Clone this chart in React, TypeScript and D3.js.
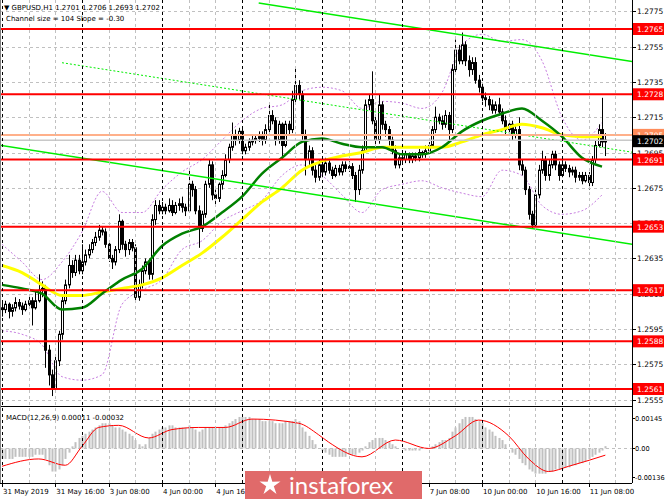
import React, { useEffect, useRef } from "react";
import * as d3 from "d3";

// GBPUSD H1 candles, 31 May 00:00 .. 11 Jun 13:00
const opens = [
  1.2607, 1.2606, 1.2609, 1.2605, 1.2607, 1.261, 1.2608, 1.2606, 1.2609, 1.2611,
  1.2607, 1.2611, 1.2617, 1.2618, 1.2583, 1.2569, 1.2561, 1.2577, 1.2592, 1.2611,
  1.262, 1.2631, 1.2627, 1.2634, 1.2628, 1.2633, 1.2637, 1.264, 1.2644, 1.2647,
  1.2651, 1.265, 1.2643, 1.2635, 1.2633, 1.264, 1.2656, 1.2643, 1.264, 1.2644,
  1.2641, 1.2613, 1.262, 1.2628, 1.2633, 1.2626, 1.2657, 1.2665, 1.2662, 1.2664,
  1.2662, 1.2665, 1.2661, 1.2665, 1.2666, 1.2664, 1.2662, 1.2677, 1.2674, 1.2662,
  1.2652, 1.266, 1.2677, 1.2688, 1.2671, 1.2669, 1.2677, 1.2682, 1.2691, 1.2698,
  1.2705, 1.2702, 1.2707, 1.2696, 1.2698, 1.2701, 1.2702, 1.2703, 1.2704, 1.2702,
  1.2708, 1.2716, 1.2713, 1.2702, 1.2711, 1.2699, 1.2711, 1.2708, 1.2725, 1.2733,
  1.2728, 1.2705, 1.2691, 1.2696, 1.2685, 1.2681, 1.2688, 1.2684, 1.2689, 1.2685,
  1.2682, 1.2686, 1.2684, 1.2688, 1.2686, 1.2687, 1.2682, 1.2674, 1.2685, 1.2696,
  1.2722, 1.2725, 1.2713, 1.2702, 1.2722, 1.2711, 1.2708, 1.2702, 1.2696, 1.2688,
  1.2692, 1.2691, 1.2694, 1.2691, 1.2693, 1.2692, 1.2695, 1.2694, 1.2696, 1.2699,
  1.2708, 1.2715, 1.2713, 1.2711, 1.2716, 1.2708, 1.2742, 1.2753, 1.2747, 1.2756,
  1.2747, 1.2742, 1.2746, 1.2736, 1.2732, 1.2726, 1.2725, 1.2722, 1.2719, 1.2722,
  1.2718, 1.2713, 1.2708, 1.2711, 1.2705, 1.2708, 1.2688, 1.2685, 1.2674, 1.266,
  1.2654, 1.2671, 1.2685, 1.2691, 1.2682, 1.2688, 1.2694, 1.2688, 1.2682, 1.2688,
  1.2686, 1.2684, 1.2685, 1.2681, 1.2682, 1.2679, 1.2682, 1.2678, 1.2691, 1.2699,
  1.2708, 1.2701,
];
const highs = [
  1.261, 1.2611, 1.261, 1.2609, 1.2613, 1.2612, 1.261, 1.2611, 1.2614, 1.2613,
  1.2617, 1.2626, 1.2622, 1.262, 1.2586, 1.2572, 1.258, 1.2594, 1.2614, 1.2623,
  1.2637, 1.2634, 1.2637, 1.2637, 1.2643, 1.264, 1.2643, 1.2646, 1.265, 1.2654,
  1.2653, 1.2652, 1.2644, 1.2637, 1.2642, 1.266, 1.2657, 1.2645, 1.2646, 1.2646,
  1.2643, 1.2623, 1.2631, 1.2635, 1.2635, 1.266, 1.2668, 1.2668, 1.2667, 1.2666,
  1.2669, 1.2668, 1.2667, 1.2669, 1.267, 1.2666, 1.2685, 1.2679, 1.2676, 1.2665,
  1.2662, 1.2679, 1.2691, 1.269, 1.2674, 1.2678, 1.2685, 1.2694, 1.27, 1.2712,
  1.2708, 1.2709, 1.2709, 1.27, 1.2703, 1.2705, 1.2705, 1.2707, 1.2707, 1.2711,
  1.2723, 1.2719, 1.2715, 1.2713, 1.2712, 1.2713, 1.2713, 1.273, 1.2743, 1.2736,
  1.273, 1.2708, 1.2699, 1.2698, 1.2688, 1.2691, 1.269, 1.2692, 1.2691, 1.2687,
  1.2688, 1.2688, 1.269, 1.269, 1.269, 1.2689, 1.2684, 1.2688, 1.2699, 1.2725,
  1.2728, 1.2741, 1.2716, 1.2728, 1.2724, 1.2713, 1.271, 1.2704, 1.2699, 1.2694,
  1.2694, 1.2696, 1.2695, 1.2695, 1.2695, 1.2697, 1.2696, 1.2699, 1.2701, 1.271,
  1.2721, 1.2717, 1.2716, 1.2719, 1.2718, 1.2745, 1.2759, 1.2756, 1.2763, 1.2758,
  1.275, 1.2749, 1.2749, 1.2739, 1.2734, 1.2729, 1.2727, 1.2725, 1.2724, 1.2726,
  1.272, 1.2716, 1.2713, 1.2713, 1.271, 1.2715, 1.2691, 1.2687, 1.2676, 1.2662,
  1.2674, 1.2688, 1.2696, 1.2693, 1.2691, 1.2696, 1.2696, 1.269, 1.2691, 1.269,
  1.2688, 1.2687, 1.2687, 1.2684, 1.2684, 1.2684, 1.2684, 1.2693, 1.2702, 1.2711,
  1.2726, 1.2706,
];
const lows = [
  1.2602, 1.2604, 1.2601, 1.2602, 1.2605, 1.2606, 1.2603, 1.2605, 1.2607, 1.2597,
  1.2606, 1.261, 1.2613, 1.2573, 1.2563, 1.2557, 1.2559, 1.2574, 1.2589, 1.2609,
  1.2618, 1.2624, 1.2625, 1.2626, 1.2626, 1.2631, 1.2635, 1.2638, 1.2642, 1.2645,
  1.2648, 1.2641, 1.2633, 1.2629, 1.2631, 1.2638, 1.264, 1.2636, 1.2637, 1.2639,
  1.261, 1.2611, 1.2618, 1.2626, 1.2623, 1.2623, 1.2654, 1.266, 1.266, 1.266,
  1.2661, 1.2659, 1.266, 1.2662, 1.2661, 1.2659, 1.2661, 1.267, 1.266, 1.2641,
  1.265, 1.2658, 1.2675, 1.2668, 1.2665, 1.2667, 1.2674, 1.2681, 1.2689, 1.2696,
  1.2699, 1.27, 1.2694, 1.2694, 1.2696, 1.2699, 1.27, 1.2701, 1.2699, 1.27,
  1.2706, 1.2711, 1.2699, 1.27, 1.2691, 1.2698, 1.2705, 1.2706, 1.2722, 1.2725,
  1.2702, 1.2682, 1.2688, 1.2682, 1.2678, 1.2679, 1.2681, 1.2682, 1.2683, 1.268,
  1.2681, 1.2682, 1.2682, 1.2684, 1.2684, 1.268, 1.2667, 1.2671, 1.2683, 1.2695,
  1.2719, 1.2711, 1.2699, 1.27, 1.2708, 1.2704, 1.2699, 1.2694, 1.2686, 1.2686,
  1.2688, 1.2689, 1.2689, 1.2689, 1.269, 1.269, 1.2692, 1.2692, 1.2695, 1.2698,
  1.2706, 1.2711, 1.2708, 1.2709, 1.2702, 1.2706, 1.2739, 1.2745, 1.2745, 1.2744,
  1.2738, 1.2739, 1.2734, 1.2729, 1.2724, 1.2721, 1.2719, 1.2717, 1.2717, 1.2716,
  1.2711, 1.2705, 1.2705, 1.2702, 1.2703, 1.2685, 1.2682, 1.2671, 1.2657, 1.2652,
  1.2653, 1.2669, 1.2683, 1.2679, 1.2679, 1.2686, 1.2685, 1.2679, 1.2681, 1.2684,
  1.2681, 1.2682, 1.2678, 1.2679, 1.2677, 1.2678, 1.2674, 1.2676, 1.2689, 1.2698,
  1.2698, 1.2693,
];
const closes = [
  1.2606, 1.2609, 1.2605, 1.2607, 1.261, 1.2608, 1.2606, 1.2609, 1.2611, 1.2607,
  1.2611, 1.2617, 1.2618, 1.2583, 1.2569, 1.2561, 1.2577, 1.2592, 1.2611, 1.262,
  1.2631, 1.2627, 1.2634, 1.2628, 1.2633, 1.2637, 1.264, 1.2644, 1.2647, 1.2651,
  1.265, 1.2643, 1.2635, 1.2633, 1.264, 1.2656, 1.2643, 1.264, 1.2644, 1.2641,
  1.2613, 1.262, 1.2628, 1.2633, 1.2626, 1.2657, 1.2665, 1.2662, 1.2664, 1.2662,
  1.2665, 1.2661, 1.2665, 1.2666, 1.2664, 1.2662, 1.2677, 1.2674, 1.2662, 1.2652,
  1.266, 1.2677, 1.2688, 1.2671, 1.2669, 1.2677, 1.2682, 1.2691, 1.2698, 1.2705,
  1.2702, 1.2707, 1.2696, 1.2698, 1.2701, 1.2702, 1.2703, 1.2704, 1.2702, 1.2708,
  1.2716, 1.2713, 1.2702, 1.2711, 1.2699, 1.2711, 1.2708, 1.2725, 1.2733, 1.2728,
  1.2705, 1.2691, 1.2696, 1.2685, 1.2681, 1.2688, 1.2684, 1.2689, 1.2685, 1.2682,
  1.2686, 1.2684, 1.2688, 1.2686, 1.2687, 1.2682, 1.2674, 1.2685, 1.2696, 1.2722,
  1.2725, 1.2713, 1.2702, 1.2722, 1.2711, 1.2708, 1.2702, 1.2696, 1.2688, 1.2692,
  1.2691, 1.2694, 1.2691, 1.2693, 1.2692, 1.2695, 1.2694, 1.2696, 1.2699, 1.2708,
  1.2715, 1.2713, 1.2711, 1.2716, 1.2708, 1.2742, 1.2753, 1.2747, 1.2756, 1.2747,
  1.2742, 1.2746, 1.2736, 1.2732, 1.2726, 1.2725, 1.2722, 1.2719, 1.2722, 1.2718,
  1.2713, 1.2708, 1.2711, 1.2705, 1.2708, 1.2688, 1.2685, 1.2674, 1.266, 1.2654,
  1.2671, 1.2685, 1.2691, 1.2682, 1.2688, 1.2694, 1.2688, 1.2682, 1.2688, 1.2686,
  1.2684, 1.2685, 1.2681, 1.2682, 1.2679, 1.2682, 1.2678, 1.2691, 1.2699, 1.2708,
  1.2701, 1.2702,
];

// indicator readings, sampled every 6 bars
const sampleBars = d3.range(0, 181, 6);
const maFast = [
  1.262, 1.2618, 1.2615, 1.2606, 1.2607, 1.2615, 1.2623, 1.2629, 1.2642, 1.2649,
  1.2653, 1.2661, 1.267, 1.2683, 1.2692, 1.2701, 1.2703, 1.27, 1.2698, 1.2698,
  1.2694, 1.2694, 1.2698, 1.2707, 1.2713, 1.2717, 1.272, 1.2713, 1.2704, 1.2692,
  1.2687,
];
const maSlow = [
  1.2631, 1.2627, 1.262, 1.2614, 1.2614, 1.2616, 1.2618, 1.262, 1.2624, 1.2631,
  1.2638, 1.2647, 1.2657, 1.2667, 1.2675, 1.2685, 1.269, 1.2693, 1.2695, 1.2698,
  1.2698, 1.2698, 1.2698, 1.2701, 1.2705, 1.2708, 1.2711, 1.2709, 1.2705, 1.2704,
  1.2704,
];
const bandUpper = [
  1.2643, 1.2633, 1.2623, 1.2633, 1.265, 1.2673, 1.2661, 1.2661, 1.2674, 1.2684,
  1.2691, 1.2702, 1.2713, 1.272, 1.2722, 1.273, 1.2732, 1.273, 1.272, 1.2724,
  1.2723, 1.272, 1.2729, 1.2756, 1.2762, 1.2758, 1.2759, 1.2747, 1.2715, 1.2702,
  1.2712,
];
const bandLower = [
  1.2594, 1.2592, 1.2586, 1.2568, 1.2566, 1.2569, 1.2609, 1.2617, 1.2623, 1.264,
  1.2645, 1.2656, 1.2662, 1.2668, 1.2682, 1.2688, 1.2682, 1.2671, 1.2661, 1.2674,
  1.2677, 1.2679, 1.2675, 1.2672, 1.267, 1.2685, 1.2682, 1.2665, 1.266, 1.2662,
  1.2671,
];

// equidistant channel (anchor bar, price)
const channelTop = [{ bar: 77, price: 1.27797 }, { bar: 190, price: 1.27463 }];
const channelBottom = [{ bar: -2, price: 1.26996 }, { bar: 190, price: 1.26427 }];
const channelMid = [{ bar: 18, price: 1.27459 }, { bar: 190, price: 1.26949 }];

const levels = [1.2765, 1.2728, 1.2691, 1.2653, 1.2617, 1.2588, 1.2561];
const priceTicks = [
  1.2555, 1.2575, 1.2595, 1.2615, 1.2635, 1.2655, 1.2675, 1.2695, 1.2715,
  1.2735, 1.2755, 1.2775,
];
const macdTicks = [0.00145, 0, -0.00136];
const macdTickLabels = ["0.00145", "0.00", "-0.00136"];
const timeBars = [0, 16, 32, 48, 64, 80, 96, 112, 128, 144, 160, 176];
const timeLabels = [
  "31 May 2019", "31 May 16:00", "3 Jun 08:00", "4 Jun 00:00", "4 Jun 16:00",
  "5 Jun 08:00", "6 Jun 00:00", "6 Jun 16:00", "7 Jun 08:00", "10 Jun 00:00",
  "10 Jun 16:00", "11 Jun 08:00",
];

const macdHist = [
  -0.0005, -0.0005, -0.0005, -0.0005, -0.0004, -0.0004, -0.0004, -0.0004, -0.0004, -0.0004,
  -0.0003, -0.0003, -0.0003, -0.0005, -0.0008, -0.0011, -0.0011, -0.001, -0.0008, -0.0005,
  -0.0002, 0.0001, 0.0003, 0.0005, 0.0006, 0.0007, 0.0008, 0.0009, 0.001, 0.0011,
  0.0012, 0.0012, 0.0012, 0.0011, 0.001, 0.001, 0.0009, 0.0008, 0.0007, 0.0006,
  0.0004, 0.0002, 0.0001, 0.0002, 0.0005, 0.0007, 0.0008, 0.0009, 0.001, 0.001,
  0.0011, 0.0011, 0.001, 0.001, 0.001, 0.001, 0.0011, 0.001, 0.0009, 0.0008,
  0.0009, 0.001, 0.001, 0.001, 0.001, 0.001, 0.001, 0.0011, 0.0012, 0.0013,
  0.0014, 0.0015, 0.0015, 0.0015, 0.0015, 0.0014, 0.0014, 0.0014, 0.0013, 0.0013,
  0.0013, 0.0013, 0.0012, 0.0012, 0.0012, 0.0013, 0.0013, 0.0013, 0.0014, 0.0013,
  0.001, 0.0008, 0.0006, 0.0004, 0.0002, 0.0, -0.0001, -0.0002, -0.0003, -0.0004,
  -0.0004, -0.0004, -0.0004, -0.0004, -0.0003, -0.0003, -0.0003, -0.0002, -0.0001, 0.0001,
  0.0003, 0.0004, 0.0005, 0.0005, 0.0005, 0.0004, 0.0003, 0.0002, 0.0001, 0.0,
  0.0, -0.0001, -0.0001, -0.0001, -0.0001, -0.0001, 0.0, 0.0, 0.0, 0.0001,
  0.0002, 0.0003, 0.0004, 0.0004, 0.0005, 0.0008, 0.001, 0.0012, 0.0014, 0.0015,
  0.0015, 0.0015, 0.0014, 0.0013, 0.0012, 0.001, 0.0009, 0.0008, 0.0006, 0.0005,
  0.0004, 0.0002, 0.0, -0.0002, -0.0003, -0.0005, -0.0007, -0.0008, -0.001, -0.0011,
  -0.0012, -0.0012, -0.0012, -0.0012, -0.0011, -0.0011, -0.001, -0.001, -0.001, -0.0009,
  -0.0009, -0.0008, -0.0008, -0.0007, -0.0007, -0.0006, -0.0005, -0.0004, -0.0003, -0.0002,
  -0.0001, 0.00011,
];
const signalBars = [0, 11, 19, 24, 29, 35, 44, 51, 59, 67, 75, 89, 95, 98, 108, 118, 128, 136, 143, 152, 158, 164, 170, 181];
const signalValues = [
  -0.00085, -0.0005, -0.0008, 0.0001, 0.001, 0.0011, 0.0005, 0.0009, 0.001, 0.001,
  0.0014, 0.0012, 0.00065, 0.0003, -0.0004, 0.0004, 0.0, 0.0006, 0.00135, 0.0006,
  -0.0005, -0.0011, -0.00085, -0.00032,
];

const FONT = "DejaVu Sans, Verdana, sans-serif";

export default function App() {
  const svgRef = useRef<SVGSVGElement>(null);

  useEffect(() => {
    if (!svgRef.current) return;
    document.body.style.margin = "0";
    const svg = d3.select(svgRef.current);
    svg.selectAll("*").remove();

    const W = 665;
    const H = 499;
    const plotR = 632;
    const mainB = 406;
    const macdT = 407;
    const macdB = 483;

    const x = d3.scaleLinear().domain([0, 180]).range([2, 602]);
    const y = d3.scaleLinear().domain([1.2561, 1.2765]).range([389, 29]);
    const ym = d3.scaleLinear().domain([-0.00136, 0.00145]).range([477, 418]);
    const px = (v: number) => Math.round(v) + 0.5;

    svg.append("rect").attr("width", W).attr("height", H).attr("fill", "#fff");

    const defs = svg.append("defs");
    defs.append("clipPath").attr("id", "clip-main")
      .append("rect").attr("x", 0).attr("y", 0).attr("width", plotR).attr("height", mainB);
    defs.append("clipPath").attr("id", "clip-macd")
      .append("rect").attr("x", 0).attr("y", macdT).attr("width", plotR).attr("height", macdB - macdT);

    const main = svg.append("g").attr("clip-path", "url(#clip-main)");
    const sub = svg.append("g").attr("clip-path", "url(#clip-macd)");

    // grid
    main.selectAll(".hgrid").data(priceTicks).enter().append("line")
      .attr("x1", 0).attr("x2", plotR)
      .attr("y1", (d) => px(y(d))).attr("y2", (d) => px(y(d)))
      .attr("stroke", "#c0c0c0").attr("stroke-dasharray", "3,3");
    sub.append("line").attr("x1", 0).attr("x2", plotR)
      .attr("y1", px(ym(0))).attr("y2", px(ym(0)))
      .attr("stroke", "#c0c0c0").attr("stroke-dasharray", "3,3");
    const vbars = d3.range(0, 190, 8);
    svg.selectAll(".vgrid").data(vbars).enter().append("line")
      .attr("x1", (d) => px(x(d))).attr("x2", (d) => px(x(d)))
      .attr("y1", 0).attr("y2", macdB)
      .attr("stroke", (d) => (d % 24 === 0 ? "#000" : "#c0c0c0"))
      .attr("stroke-dasharray", "3,3");

    // Bollinger bands
    const sampleLine = d3.line<number>()
      .x((_d, i) => x(sampleBars[i]))
      .y((d) => y(d))
      .curve(d3.curveMonotoneX);
    [bandUpper, bandLower].forEach((arr) => {
      main.append("path").datum(arr).attr("d", sampleLine)
        .attr("fill", "none").attr("stroke", "#c77ee0").attr("stroke-width", 1)
        .attr("stroke-dasharray", "2,2");
    });

    // candles
    const idx = d3.range(closes.length);
    main.selectAll(".wick").data(idx).enter().append("line")
      .attr("x1", (i) => px(x(i))).attr("x2", (i) => px(x(i)))
      .attr("y1", (i) => y(highs[i])).attr("y2", (i) => y(lows[i]))
      .attr("stroke", "#000").attr("stroke-width", 1);
    main.selectAll(".body").data(idx).enter().append("rect")
      .attr("x", (i) => Math.round(x(i)) - 0.5)
      .attr("width", 2)
      .attr("y", (i) => y(Math.max(opens[i], closes[i])))
      .attr("height", (i) => Math.max(1, Math.abs(y(opens[i]) - y(closes[i]))))
      .attr("fill", (i) => (closes[i] >= opens[i] ? "#fff" : "#000"))
      .attr("stroke", "#000").attr("stroke-width", 1);

    // moving averages
    main.append("path").datum(maSlow).attr("d", sampleLine)
      .attr("fill", "none").attr("stroke", "#ffff00").attr("stroke-width", 3);
    main.append("path").datum(maFast).attr("d", sampleLine)
      .attr("fill", "none").attr("stroke", "#008000").attr("stroke-width", 2.5);

    // channel
    const chLine = d3.line<{ bar: number; price: number }>()
      .x((d) => x(d.bar)).y((d) => y(d.price));
    main.append("path").datum(channelTop).attr("d", chLine)
      .attr("stroke", "#00ee00").attr("stroke-width", 1.5).attr("fill", "none");
    main.append("path").datum(channelBottom).attr("d", chLine)
      .attr("stroke", "#00ee00").attr("stroke-width", 1.5).attr("fill", "none");
    main.append("path").datum(channelMid).attr("d", chLine)
      .attr("stroke", "#00ee00").attr("stroke-width", 1).attr("fill", "none")
      .attr("stroke-dasharray", "2,2");

    // bid / ask lines
    main.append("line").attr("x1", 0).attr("x2", plotR)
      .attr("y1", y(1.2705)).attr("y2", y(1.2705))
      .attr("stroke", "#ffb08a").attr("stroke-width", 2);
    main.append("line").attr("x1", 0).attr("x2", plotR)
      .attr("y1", y(1.2702)).attr("y2", y(1.2702))
      .attr("stroke", "#c8c8c8").attr("stroke-width", 1.5);

    // horizontal levels
    main.selectAll(".lvl").data(levels).enter().append("line")
      .attr("x1", 0).attr("x2", plotR)
      .attr("y1", (d) => y(d)).attr("y2", (d) => y(d))
      .attr("stroke", "#ff0000").attr("stroke-width", 2);

    // MACD
    sub.selectAll(".hist").data(idx).enter().append("rect")
      .attr("x", (i) => Math.round(x(i)) - 0.5)
      .attr("width", 2)
      .attr("y", (i) => ym(Math.max(0, macdHist[i])))
      .attr("height", (i) => Math.abs(ym(macdHist[i]) - ym(0)))
      .attr("fill", "#c0c0c0");
    const sigLine = d3.line<number>()
      .x((_d, i) => x(signalBars[i])).y((d) => ym(d))
      .curve(d3.curveMonotoneX);
    sub.append("path").datum(signalValues).attr("d", sigLine)
      .attr("fill", "none").attr("stroke", "#ff0000").attr("stroke-width", 1);

    // frames
    svg.append("line").attr("x1", px(plotR)).attr("x2", px(plotR))
      .attr("y1", 0).attr("y2", macdB).attr("stroke", "#000");
    svg.append("line").attr("x1", 0).attr("x2", plotR)
      .attr("y1", px(mainB)).attr("y2", px(mainB)).attr("stroke", "#000");
    svg.append("line").attr("x1", 0).attr("x2", plotR)
      .attr("y1", px(macdB)).attr("y2", px(macdB)).attr("stroke", "#000");
    svg.append("line").attr("x1", 0.5).attr("x2", 0.5)
      .attr("y1", 0).attr("y2", macdB).attr("stroke", "#808080");

    // price axis
    const axis = svg.append("g").style("font-family", FONT).style("font-size", "7.5px");
    priceTicks.forEach((t) => {
      axis.append("line").attr("x1", plotR).attr("x2", plotR + 4)
        .attr("y1", px(y(t))).attr("y2", px(y(t))).attr("stroke", "#000");
      axis.append("text").attr("x", plotR + 5).attr("y", y(t) + 3).attr("fill", "#000").text(d3.format(".4f")(t));
    });
    const tag = (p: number, fill: string, yy: number) => {
      axis.append("rect").attr("x", plotR + 1).attr("y", yy - 6).attr("width", 31).attr("height", 12).attr("fill", fill);
      axis.append("text").attr("x", plotR + 5).attr("y", yy + 3).attr("fill", "#fff").text(d3.format(".4f")(p));
    };
    levels.forEach((l) => tag(l, "#ff0000", y(l)));
    tag(1.2705, "#ff8c5a", y(1.2705));
    tag(1.2702, "#000", y(1.2702) + 1);

    // macd axis
    macdTicks.forEach((v, i) => {
      axis.append("line").attr("x1", plotR).attr("x2", plotR + 3)
        .attr("y1", px(ym(v))).attr("y2", px(ym(v))).attr("stroke", "#000");
      axis.append("text").attr("x", plotR + 3).attr("y", ym(v) + 3)
        .style("font-size", "6.6px").text(macdTickLabels[i]);
    });

    // time axis
    const tAxis = svg.append("g").style("font-family", FONT).style("font-size", "7px");
    timeBars.forEach((b, i) => {
      tAxis.append("line").attr("x1", px(x(b))).attr("x2", px(x(b)))
        .attr("y1", macdB).attr("y2", macdB + 4).attr("stroke", "#000");
      tAxis.append("text").attr("x", x(b) + 1).attr("y", macdB + 11).text(timeLabels[i]);
    });

    // header texts
    const head = svg.append("g").style("font-family", FONT).style("font-size", "7px").attr("fill", "#000");
    head.append("text").attr("x", 4).attr("y", 10).text("\u25BC GBPUSD,H1  1.2701 1.2706 1.2693 1.2702");
    head.append("text").attr("x", 6).attr("y", 21).text("Channel size = 104 Slope = -0.30");
    head.append("text").attr("x", 6).attr("y", 420).text("MACD(12,26,9) 0.00011 -0.00032");

    // watermark
    const wm = svg.append("g");
    wm.append("rect").attr("x", 245).attr("y", 471).attr("width", 177).attr("height", 28)
      .attr("fill", "#e06a6a");
    const star = d3.range(10).map((k) => {
      const r = k % 2 === 0 ? 11 : 4;
      const a = (Math.PI / 5) * k - Math.PI / 2;
      return [270 + r * Math.cos(a), 485 + r * Math.sin(a)] as [number, number];
    });
    wm.append("path").attr("d", d3.line()(star) + "Z").attr("fill", "#fff");
    wm.append("text").attr("x", 289).attr("y", 494)
      .style("font-family", "Lato, 'Open Sans', sans-serif").style("font-size", "24px")
      .attr("fill", "#fff").text("instaforex");
  }, []);

  return <svg ref={svgRef} width={665} height={499} style={{ display: "block" }} />;
}
